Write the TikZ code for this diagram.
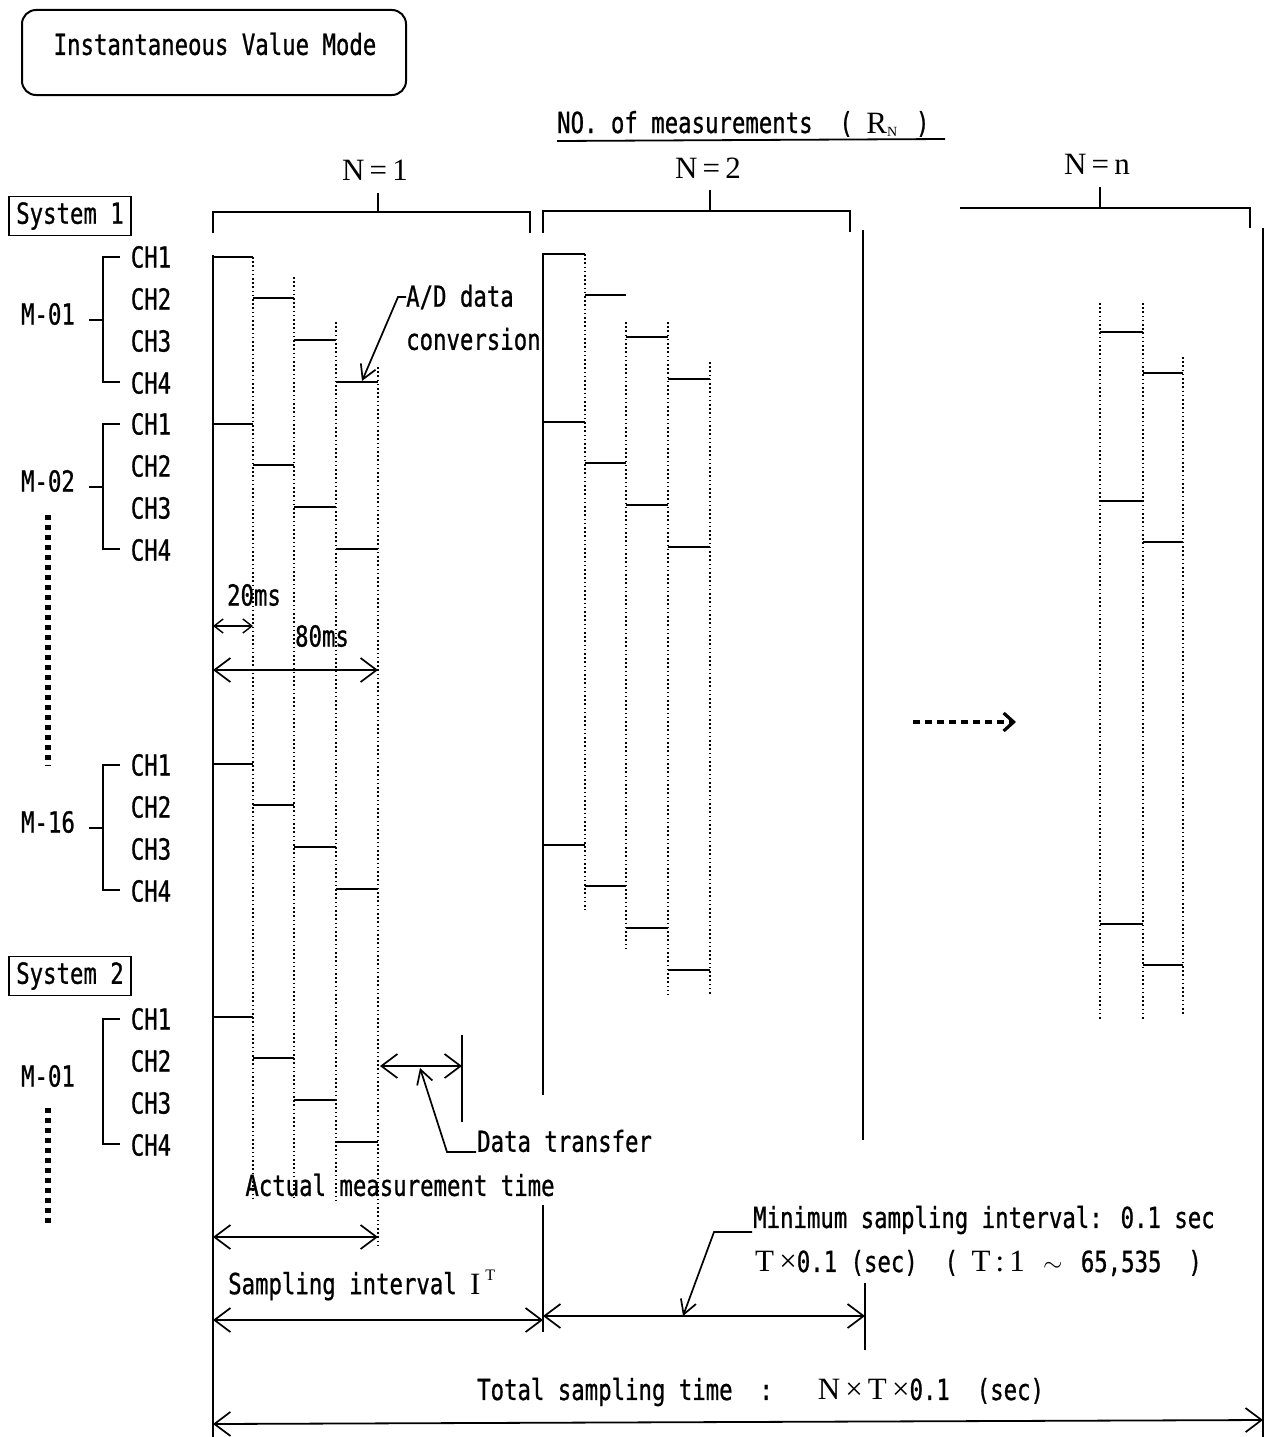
\documentclass[tikz,border=0pt]{standalone}
\usepackage{fontspec}
\setmainfont{Liberation Serif}
\newfontfamily\mono[FakeStretch=0.77,FakeBold=0.8]{DejaVu Sans Mono}
\usetikzlibrary{arrows.meta}
\tikzset{
  ln/.style={line width=2.2pt},
  dotl/.style={line width=2pt, dash pattern=on 1.5pt off 2.7pt},
  txt/.style={font=\mono\fontsize{29}{34}\selectfont, inner sep=0pt},
  stxt/.style={font=\fontsize{31}{36}\selectfont, inner sep=0pt},
  bigbarb/.tip={Straight Barb[length=16pt,width=24pt,line width=1.7pt]},
  smallbarb/.tip={Straight Barb[length=9pt,width=14pt,line width=1.4pt]},
  dimarrow/.style={line width=1.8pt, bigbarb-bigbarb},
  lead/.style={line width=1.7pt, -{Straight Barb[length=14pt,width=16pt,line width=1.7pt]}},
  sysbox/.style={draw, line width=1.7pt, minimum width=122pt, minimum height=39pt, inner sep=1pt, font=\mono\fontsize{29}{34}\selectfont},
  bigdots/.style={line width=6pt, dash pattern=on 5pt off 5pt}
}
\begin{document}
\begin{tikzpicture}[x=1pt,y=-1pt]
\useasboundingbox (0,0) rectangle (1276,1437);

% title
\draw[line width=2pt, rounded corners=14pt] (22,10) rectangle (406,95);
\node[txt] (title) at (215,44) {Instantaneous Value Mode};

% heading
\node[txt, anchor=base west] (nom) at (557,133) {NO. of measurements \ ( {\rmfamily\fontsize{31}{31}\selectfont R\textsubscript{\fontsize{14}{14}\selectfont N}} \,)};
\draw[line width=1.8pt] (557,141) -- (945,139);

% N labels and brackets
\node[stxt] (n1) at (375,170) {N\,=\,1};
\node[stxt] (n2) at (708,168) {N\,=\,2};
\node[stxt] (nn) at (1097,164) {N\,=\,n};
\draw[ln] (213,233) -- (213,212) -- (530,212) -- (530,233);
\draw[ln] (378,212) -- (378,193);
\draw[ln] (543,233) -- (543,211) -- (850,211) -- (850,232);
\draw[ln] (710,211) -- (710,190);
\draw[ln] (960,208) -- (1250,208) -- (1250,228);
\draw[ln] (1100,208) -- (1100,187);

% system boxes
\node[sysbox] (sys1) at (70,216) {System 1};
\node[sysbox] (sys2) at (70,976) {System 2};

% channel labels and brackets
\foreach \b/\m/\tk in {257/M-01/1, 424/M-02/1, 765/M-16/1, 1019/M-01/0} {
  \node[txt] at (151,\b) {CH1};
  \node[txt] at (151,{\b+42}) {CH2};
  \node[txt] at (151,{\b+84}) {CH3};
  \node[txt] at (151,{\b+126}) {CH4};
  \draw[ln] (120,\b) -- (103,\b) -- (103,{\b+125}) -- (120,{\b+125});
  \node[txt] at (48,{\b+57}) {\m};
  \ifnum\tk=1 \draw[ln] (89,{\b+63}) -- (103,{\b+63}); \fi
}
\draw[bigdots] (48,515) -- (48,766);
\draw[bigdots] (48,1108) -- (48,1224);

% N=1 column
\draw[ln] (213,255) -- (213,1437);
\foreach \b in {257,424,764,1017} {
  \draw[ln] (213,\b) -- (253,\b);
  \draw[ln] (253,{\b+41}) -- (294,{\b+41});
  \draw[ln] (294,{\b+83}) -- (336,{\b+83});
  \draw[ln] (336,{\b+125}) -- (378,{\b+125});
}
\draw[dotl] (253,257) -- (253,1200);
\draw[dotl] (294,277) -- (294,1200);
\draw[dotl] (336,322) -- (336,1200);
\draw[dotl] (378,367) -- (378,1247);

% N=2 column
\draw[ln] (543,253) -- (543,1095);
\foreach \b in {254,422,845} {
  \draw[ln] (543,\b) -- (585,\b);
  \draw[ln] (585,{\b+41}) -- (626,{\b+41});
  \draw[ln] (626,{\b+83}) -- (668,{\b+83});
  \draw[ln] (668,{\b+125}) -- (710,{\b+125});
}
\draw[dotl] (585,254) -- (585,910);
\draw[dotl] (626,322) -- (626,950);
\draw[dotl] (668,322) -- (668,995);
\draw[dotl] (710,362) -- (710,995);
\draw[ln] (863,230) -- (863,1140);

% N=n column
\foreach \b in {332,501,924} {
  \draw[ln] (1100,\b) -- (1143,\b);
  \draw[ln] (1143,{\b+41}) -- (1183,{\b+41});
}
\draw[dotl] (1100,303) -- (1100,1020);
\draw[dotl] (1143,303) -- (1143,1020);
\draw[dotl] (1183,357) -- (1183,1015);
\draw[ln] (1263,228) -- (1263,1437);

% continuation arrow
\coordinate (c1) at (913,722);
\coordinate (c2) at (1016,722);
\draw[line width=3.4pt, dash pattern=on 7pt off 5pt, -{Straight Barb[length=10pt,width=18pt,line width=3.2pt]}] (c1) -- (c2);

% A/D data conversion
\node[txt, anchor=west] (ad1) at (406,297) {A/D data};
\node[txt, anchor=west] (ad2) at (406,339) {conversion};
\coordinate (adt) at (362,381);
\draw[lead] (ad1.west) -- ++(-8,0) -- (adt);

% 20 ms and 80 ms
\node[txt] (t20) at (254,595) {20ms};
\node[txt] (t80) at (322,636) {80ms};
\coordinate (a0) at (213,626);
\coordinate (a1) at (253,626);
\draw[line width=1.4pt, smallbarb-smallbarb] (a0) -- (a1);
\coordinate (b0) at (213,670);
\coordinate (b1) at (378,670);
\draw[dimarrow] (b0) -- (b1);

% data transfer
\coordinate (d0) at (380,1066);
\coordinate (d1) at (462,1066);
\draw[dimarrow] (d0) -- (d1);
\draw[ln] (462,1035) -- (462,1122);
\node[txt, anchor=west] (dt) at (477,1141) {Data transfer};
\coordinate (dtt) at (420,1068);
\draw[lead] (476,1152) -- (447,1152) -- (dtt);

% actual measurement time
\node[txt] (amt) at (400,1185) {Actual measurement time};
\coordinate (e0) at (213,1237);
\coordinate (e1) at (378,1237);
\draw[dimarrow] (e0) -- (e1);

% sampling interval
\node[txt, anchor=west] (si) at (228,1285) {Sampling interval {\rmfamily\fontsize{31}{31}\selectfont I}\,\raisebox{14pt}{\rmfamily\fontsize{16}{16}\selectfont T}};
\draw[ln] (543,1205) -- (543,1332);
\coordinate (f0) at (213,1320);
\coordinate (f1) at (543,1320);
\draw[dimarrow] (f0) -- (f1);
\draw[ln] (865,1283) -- (865,1350);
\coordinate (g0) at (543,1316);
\coordinate (g1) at (865,1316);
\draw[dimarrow] (g0) -- (g1);

% minimum sampling interval
\node[txt, anchor=west] (msi) at (753,1220) {Minimum sampling interval: 0.1 sec};
\node[txt, anchor=west] (tx) at (755,1263) {{\rmfamily\fontsize{31}{31}\selectfont T\,\char"00D7}0.1 (sec) \ ( {\rmfamily\fontsize{31}{31}\selectfont T\,:\,1} \,$\sim$\, 65,535 \ )};
\coordinate (mt) at (683,1316);
\draw[lead] (752,1232) -- (714,1232) -- (mt);

% total sampling time
\node[txt, anchor=west] (tst) at (477,1392) {Total sampling time \ : \ \ {\rmfamily\fontsize{31}{31}\selectfont N\,\char"00D7\,T\,\char"00D7}0.1 \ (sec)};
\coordinate (h0) at (213,1424);
\coordinate (h1) at (1263,1420);
\draw[dimarrow] (h0) -- (h1);
\end{tikzpicture}
\end{document}
